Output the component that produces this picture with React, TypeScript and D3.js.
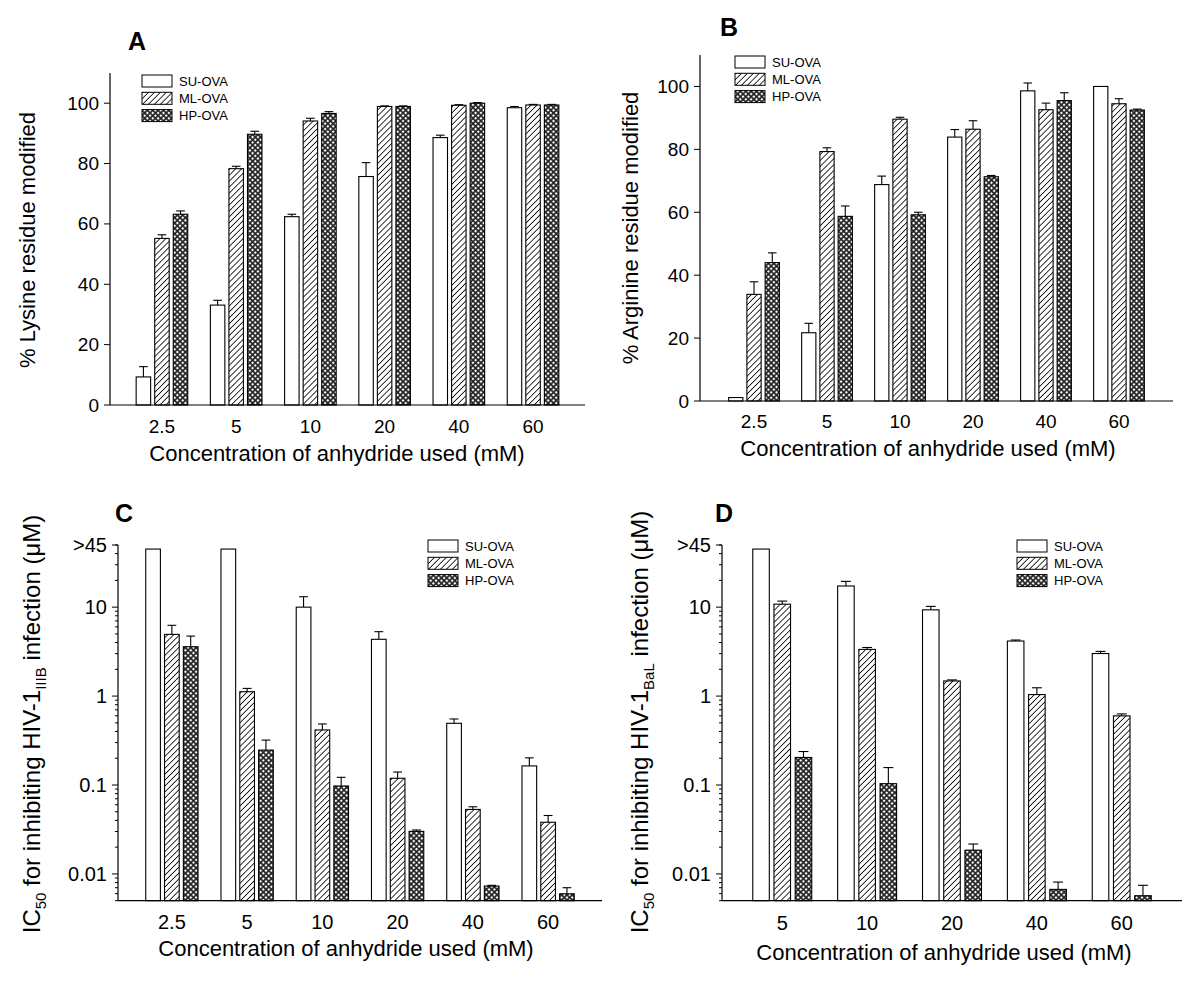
import * as d3 from "d3"
import type { ReactNode } from "react"

const series = ["SU-OVA", "ML-OVA", "HP-OVA"]
const concSix = ["2.5", "5", "10", "20", "40", "60"]
const concFive = ["5", "10", "20", "40", "60"]

// A: % lysine residue modified
const lysSU = [9.3, 33.1, 62.4, 75.7, 88.6, 98.5]
const lysML = [55.2, 78.3, 94.1, 98.9, 99.3, 99.4]
const lysHP = [63.2, 89.7, 96.6, 98.9, 100, 99.4]
const lysErrSU = [3.4, 1.6, 0.8, 4.6, 0.8, 0.4]
const lysErrML = [1.2, 0.8, 0.9, 0.2, 0.2, 0.2]
const lysErrHP = [1.1, 1.0, 0.6, 0.2, 0.2, 0.2]

// B: % arginine residue modified
const argSU = [1.1, 21.7, 68.8, 83.9, 98.6, 100]
const argML = [33.9, 79.3, 89.6, 86.4, 92.6, 94.5]
const argHP = [44.0, 58.7, 59.2, 71.3, 95.5, 92.5]
const argErrSU = [0, 3.0, 2.7, 2.4, 2.5, 0]
const argErrML = [4.0, 1.2, 0.6, 2.7, 2.1, 1.6]
const argErrHP = [3.1, 3.3, 0.8, 0.4, 2.5, 0.3]

// C: IC50 HIV-1 IIIB (uM), 45 = ">45"
const iiibSU = [45, 45, 10, 4.35, 0.494, 0.164]
const iiibML = [4.94, 1.12, 0.416, 0.119, 0.0531, 0.0381]
const iiibHP = [3.59, 0.247, 0.0975, 0.0301, 0.00731, 0.00598]
const iiibErrSU = [0, 0, 3.1, 0.95, 0.059, 0.038]
const iiibErrML = [1.31, 0.1, 0.07, 0.021, 0.0038, 0.0073]
const iiibErrHP = [1.14, 0.073, 0.0245, 0.0011, 0.00013, 0.00102]

// D: IC50 HIV-1 BaL (uM)
const balSU = [45, 17.3, 9.33, 4.16, 3.01]
const balML = [10.8, 3.35, 1.48, 1.04, 0.599]
const balHP = [0.204, 0.1035, 0.0185, 0.0067, 0.00569]
const balErrSU = [0, 2.2, 0.87, 0.11, 0.17]
const balErrML = [0.9, 0.17, 0.04, 0.2, 0.031]
const balErrHP = [0.034, 0.0535, 0.0032, 0.0014, 0.00176]

const fills = ["white", "url(#hatch)", "url(#cross)"]
const font = "'Liberation Sans', Arial, sans-serif"

type PanelDef = {
  letter: string
  cats: string[]
  values: number[][]
  errs: number[][]
  log: boolean
  x0: number
  x1: number
  yBottom: number
  yTop: number
  padOuter: number
  legend: [number, number]
  letterPos: [number, number]
  yTitle: ReactNode
  yTitlePos: [number, number]
  yTitleSize: number
  xTitlePos: [number, number]
  tickSize: number
  tickBaseline: number
}

const icTitle = (strain: string) => (
  <>
    IC
    <tspan fontSize={15} dy={6}>
      50
    </tspan>
    <tspan dy={-6}> for inhibiting HIV-1</tspan>
    <tspan fontSize={15} dy={6}>
      {strain}
    </tspan>
    <tspan dy={-6}> infection (μM)</tspan>
  </>
)

const panels: PanelDef[] = [
  {
    letter: "A",
    cats: concSix,
    values: [lysSU, lysML, lysHP],
    errs: [lysErrSU, lysErrML, lysErrHP],
    log: false,
    x0: 110,
    x1: 585,
    yBottom: 405,
    yTop: 73,
    padOuter: 0.2,
    legend: [142, 81],
    letterPos: [128, 50],
    yTitle: "% Lysine residue modified",
    yTitlePos: [35, 240],
    yTitleSize: 22,
    xTitlePos: [337, 461],
    tickSize: 19,
    tickBaseline: 28,
  },
  {
    letter: "B",
    cats: concSix,
    values: [argSU, argML, argHP],
    errs: [argErrSU, argErrML, argErrHP],
    log: false,
    x0: 700,
    x1: 1173,
    yBottom: 401,
    yTop: 55,
    padOuter: 0.24,
    legend: [735, 62],
    letterPos: [720, 36],
    yTitle: "% Arginine residue modified",
    yTitlePos: [638, 228],
    yTitleSize: 22,
    xTitlePos: [928, 456],
    tickSize: 19,
    tickBaseline: 27,
  },
  {
    letter: "C",
    cats: concSix,
    values: [iiibSU, iiibML, iiibHP],
    errs: [iiibErrSU, iiibErrML, iiibErrHP],
    log: true,
    x0: 118,
    x1: 602,
    yBottom: 900.7,
    yTop: 545,
    padOuter: 0.216,
    legend: [428, 546],
    letterPos: [115, 522],
    yTitle: icTitle("IIIB"),
    yTitlePos: [40, 724],
    yTitleSize: 24,
    xTitlePos: [346, 956],
    tickSize: 20,
    tickBaseline: 28,
  },
  {
    letter: "D",
    cats: concFive,
    values: [balSU, balML, balHP],
    errs: [balErrSU, balErrML, balErrHP],
    log: true,
    x0: 722,
    x1: 1182,
    yBottom: 900.7,
    yTop: 545,
    padOuter: 0.21,
    legend: [1017, 546],
    letterPos: [715, 522],
    yTitle: icTitle("BaL"),
    yTitlePos: [648, 722],
    yTitleSize: 24,
    xTitlePos: [944, 960],
    tickSize: 20,
    tickBaseline: 29,
  },
]

function Panel({ p }: { p: PanelDef }) {
  const x = d3.scaleBand<string>().domain(p.cats).range([p.x0, p.x1]).paddingOuter(p.padOuter)
  const step = x.step()
  const sub = d3
    .scaleBand<string>()
    .domain(series)
    .range([-0.3475 * step, 0.3475 * step])
    .paddingInner(0.22)
  const bw = sub.bandwidth()

  const y = p.log
    ? d3.scaleLog().domain([0.005, 50]).range([p.yBottom, p.yTop])
    : d3.scaleLinear().domain([0, 110]).range([p.yBottom, p.yTop])
  const base = p.log ? 0.005 : 0

  // ticks
  let ticks: { v: number; label?: string; major: boolean }[] = []
  if (p.log) {
    ticks = y.ticks().map((v) => {
      const l = Math.log10(v)
      const major = Math.abs(l - Math.round(l)) < 1e-6
      return { v, major, label: major ? String(v) : undefined }
    })
    ticks.push({ v: 50, major: true, label: ">45" })
  } else {
    ticks = y.ticks(6).map((v) => ({ v, major: true, label: String(v) }))
  }

  return (
    <g fontFamily={font}>
      <text x={p.letterPos[0]} y={p.letterPos[1]} fontSize={25} fontWeight="bold">
        {p.letter}
      </text>

      {/* bars */}
      {p.cats.map((c, i) => {
        const cx = (x(c) ?? 0) + step / 2
        return (
          <g key={c}>
            {series.map((s, k) => {
              const v = p.values[k][i]
              const e = p.errs[k][i]
              const bx = cx + (sub(s) ?? 0)
              const top = y(v)
              const errTop = y(v + e)
              return (
                <g key={s}>
                  {e > 0 && (
                    <g stroke="black" strokeWidth={1.1}>
                      <line x1={bx + bw / 2} x2={bx + bw / 2} y1={top} y2={errTop} />
                      <line x1={bx + bw * 0.2} x2={bx + bw * 0.8} y1={errTop} y2={errTop} />
                    </g>
                  )}
                  <rect
                    x={bx}
                    y={top}
                    width={bw}
                    height={y(base) - top}
                    fill={fills[k]}
                    stroke="black"
                    strokeWidth={1.1}
                  />
                </g>
              )
            })}
            <text
              x={cx}
              y={p.yBottom + p.tickBaseline}
              fontSize={p.tickSize}
              textAnchor="middle"
            >
              {c}
            </text>
          </g>
        )
      })}

      {/* axes */}
      <line x1={p.x0} x2={p.x1} y1={p.yBottom} y2={p.yBottom} stroke="black" strokeWidth={1.2} />
      <line x1={p.x0} x2={p.x0} y1={p.yBottom} y2={p.yTop} stroke="black" strokeWidth={1.2} />
      {ticks.map((t) => (
        <g key={t.v}>
          <line
            x1={p.x0}
            x2={p.x0 - (t.major ? 6 : 3)}
            y1={y(t.v)}
            y2={y(t.v)}
            stroke="black"
            strokeWidth={1}
          />
          {t.label && (
            <text
              x={p.x0 - 11}
              y={y(t.v)}
              fontSize={p.tickSize}
              textAnchor="end"
              dominantBaseline="central"
            >
              {t.label}
            </text>
          )}
        </g>
      ))}

      <text
        x={p.xTitlePos[0]}
        y={p.xTitlePos[1]}
        fontSize={22}
        textAnchor="middle"
      >
        Concentration of anhydride used (mM)
      </text>
      <text
        transform={`translate(${p.yTitlePos[0]},${p.yTitlePos[1]}) rotate(-90)`}
        fontSize={p.yTitleSize}
        textAnchor="middle"
      >
        {p.yTitle}
      </text>

      {/* legend */}
      {series.map((s, k) => (
        <g key={s} transform={`translate(${p.legend[0]},${p.legend[1] + k * 17.3})`}>
          <rect x={0} y={-6} width={30} height={12} fill={fills[k]} stroke="black" strokeWidth={1} />
          <text x={37} y={0} fontSize={13} dominantBaseline="central">
            {s}
          </text>
        </g>
      ))}
    </g>
  )
}

export default function App() {
  return (
    <svg
      width={1200}
      height={1007}
      style={{ position: "absolute", left: 0, top: 0, background: "white" }}
    >
      <defs>
        <pattern id="hatch" width={4.2} height={4.2} patternUnits="userSpaceOnUse" patternTransform="rotate(45)">
          <rect width={4.2} height={4.2} fill="white" />
          <line x1={0} y1={0} x2={0} y2={4.2} stroke="black" strokeWidth={1.6} />
        </pattern>
        <pattern id="cross" width={3.8} height={3.8} patternUnits="userSpaceOnUse" patternTransform="rotate(45)">
          <rect width={3.8} height={3.8} fill="#222" />
          <rect x={0.9} y={0.9} width={2.1} height={2.1} fill="white" />
        </pattern>
      </defs>
      {panels.map((p) => (
        <Panel key={p.letter} p={p} />
      ))}
    </svg>
  )
}
